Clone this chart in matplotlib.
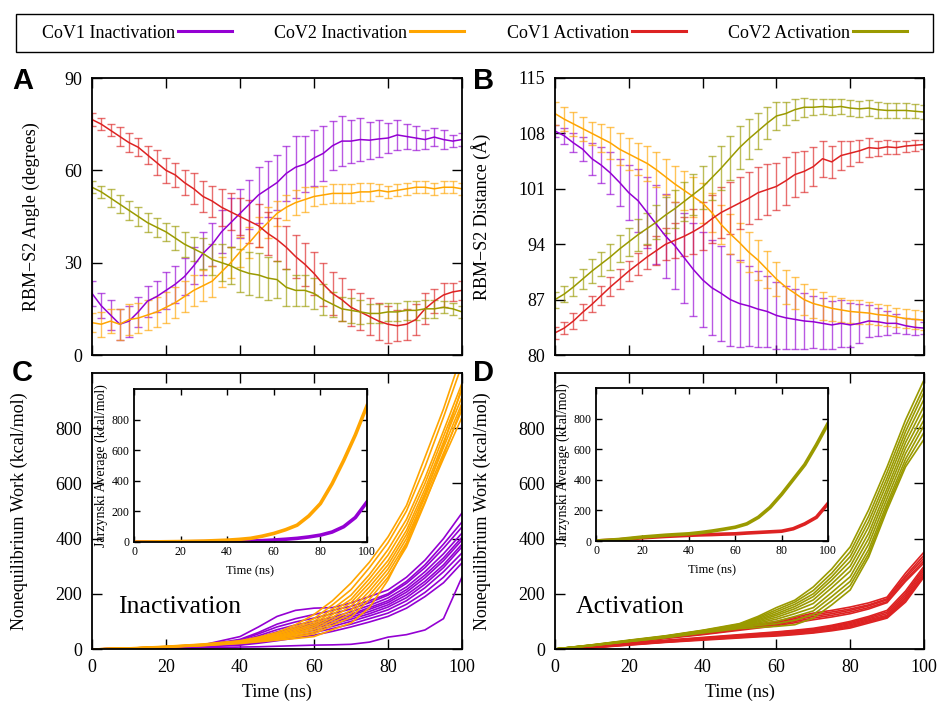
import numpy as np
import matplotlib.pyplot as plt
from matplotlib.colors import to_rgba

plt.rcParams['font.family'] = ['Liberation Serif', 'DejaVu Serif']

purple = '#9400D3'
orange = '#FFA500'
red = '#DD2222'
olive = '#9A9A00'

labels = ['CoV1 Inactivation', 'CoV2 Inactivation', 'CoV1 Activation', 'CoV2 Activation']

# ---- panel A / B : mean +- error every 2.5 ns
time_ab = np.linspace(0, 100, 41)

angle_cov1_inact = [20, 16, 13, 10, 11, 14, 17.5, 19, 21, 23, 25.5, 29, 33, 36, 40, 43, 46, 49, 52, 54,
                    56, 59, 61, 62, 64, 65.5, 68, 69.5, 69.5, 70, 69.8, 70.2, 70.5, 71.5, 71, 70.5, 70,
                    70.8, 70, 69.5, 70]
angle_cov1_inact_err = [4, 4, 5, 5, 5, 5, 5, 5, 6, 6, 6, 6, 7, 7, 7, 8, 8, 8, 9, 9, 9, 9, 10, 9, 9, 9,
                        8, 8, 7, 7, 6, 6, 5, 5, 4, 4, 3, 3, 3, 2, 2]
angle_cov2_inact = [10.5, 10, 11, 10, 11.5, 12, 13, 14, 15.5, 17, 19, 21, 22.5, 24, 27, 30, 33.5, 36.5,
                    40, 43, 46, 48, 49.5, 50.5, 51.5, 52, 52.5, 52.5, 52.5, 53, 53, 53.5, 53, 53.5, 54,
                    54.5, 54.5, 54, 54.5, 54.5, 54]
angle_cov2_inact_err = [3, 4, 4, 5, 5, 5, 5, 5, 5, 5, 5, 5, 5, 5, 5, 5, 5, 5, 5, 5, 4, 4, 4, 4, 3, 3,
                        3, 3, 3, 3, 3, 2, 2, 2, 2, 2, 2, 2, 2, 2, 2]
angle_cov1_act = [76.5, 75, 73, 71, 69, 67.5, 65, 62.5, 60, 58.5, 56, 54, 51.5, 50, 48, 46.5, 45, 43.5,
                  42, 39.5, 37.5, 35, 32, 29.5, 26.5, 23, 20, 18, 15.5, 14, 12.5, 11, 10, 9.5, 10,
                  11.5, 15, 17.5, 19.5, 20.5, 21]
angle_cov1_act_err = [2, 2, 2, 3, 3, 3, 3, 4, 4, 4, 4, 5, 5, 5, 6, 6, 6, 7, 7, 7, 7, 7, 7, 7, 7, 7, 7,
                      7, 6, 6, 6, 6, 6, 5, 5, 5, 5, 4, 4, 3, 3]
angle_cov2_act = [54.5, 53, 51, 49, 47, 45, 43, 41.5, 40, 38, 36, 34.5, 33, 31, 30, 29, 27.5, 26.5, 26,
                  25, 24.5, 22, 21, 21, 20, 18, 16.5, 15, 14.5, 14, 13.5, 13.5, 14, 14, 14.5, 14.5, 15,
                  15, 15.5, 15, 14]
angle_cov2_act_err = [2, 2, 3, 3, 3, 3, 3, 3, 3, 4, 4, 4, 5, 5, 6, 6, 7, 7, 7, 7, 6, 6, 5, 5, 5, 5, 4,
                      4, 4, 4, 3, 3, 3, 3, 3, 3, 3, 3, 2, 2, 2]

dist_cov1_inact = [108.3, 107.7, 106.8, 106, 104.8, 104, 103, 101.8, 100.5, 99.5, 98, 96.5, 95, 93.8,
                   92.3, 90.8, 89.5, 88.5, 87.8, 87, 86.5, 86.2, 85.8, 85.5, 85, 84.7, 84.5, 84.3, 84.2,
                   84, 83.8, 84, 83.8, 84, 84.3, 84.2, 84, 84, 83.7, 83.5, 83.4]
dist_cov1_inact_err = [0.8, 1, 1.2, 1.5, 2, 2.3, 2.7, 3, 3.5, 4, 4.5, 5, 5.3, 5.5, 5.7, 5.9, 6, 6, 6,
                       5.8, 5.5, 5, 4.8, 4.5, 4.2, 4, 3.8, 3.5, 3.3, 3.2, 3, 3, 2.8, 2.5, 2, 1.8, 1.5,
                       1.2, 1, 1, 0.8]
dist_cov2_inact = [110.5, 109.8, 109.2, 108.6, 108, 107.4, 106.8, 106, 105.4, 104.8, 104.2, 103.4, 102.5,
                   101.6, 100.8, 100, 99.2, 98, 96.5, 95.3, 94.2, 93, 92, 90.8, 89.6, 88.6, 87.8, 87,
                   86.5, 86.2, 85.9, 85.7, 85.5, 85.4, 85.3, 85.1, 85, 84.8, 84.6, 84.5, 84.4]
dist_cov2_inact_err = [1.5, 1.5, 1.5, 1.5, 1.5, 1.8, 2, 2, 2, 2, 2.2, 2.2, 2.3, 2.3, 2.5, 2.5, 2.5, 2.5,
                       2.5, 2.5, 2.5, 2.5, 2.5, 2.3, 2.2, 2.2, 2, 2, 1.8, 1.8, 1.6, 1.5, 1.5, 1.5, 1.4,
                       1.3, 1.3, 1.2, 1.2, 1.2, 1.2]
dist_cov1_act = [82.8, 83.4, 84.3, 85.4, 86.4, 87.5, 88.6, 89.6, 90.6, 91.5, 92.4, 93.2, 94, 94.5, 95,
                 95.6, 96.3, 97.2, 98, 98.6, 99.2, 99.8, 100.5, 100.9, 101.3, 102, 102.8, 103.2, 103.8,
                 104.8, 104.4, 105.2, 105.5, 105.8, 106.2, 106.1, 106.3, 106.2, 106.4, 106.5, 106.6]
dist_cov1_act_err = [0.8, 0.8, 1, 1, 1, 1.2, 1.2, 1.3, 1.3, 1.4, 1.5, 1.8, 2, 2.2, 2.5, 2.8, 3, 3, 3.2,
                     3.3, 3.3, 3.3, 3.3, 3.2, 3, 3, 2.8, 2.6, 2.5, 2.3, 2, 1.8, 1.6, 1.4, 1.2, 1, 0.9,
                     0.8, 0.7, 0.7, 0.6]
dist_cov2_act = [87, 87.7, 88.6, 89.6, 90.6, 91.5, 92.4, 93.4, 94.3, 95.2, 96, 96.8, 97.7, 98.5, 99.4,
                 100.3, 101.2, 102.4, 103.6, 104.9, 106.2, 107.3, 108.3, 109.3, 110.2, 110.5, 111,
                 111.3, 111.3, 111.4, 111.3, 111.4, 111.2, 111.1, 111.2, 111, 110.9, 110.9, 110.9,
                 110.8, 110.7]
dist_cov2_act_err = [1, 1, 1.2, 1.3, 1.5, 1.5, 1.6, 1.7, 1.8, 2, 2, 2.2, 2.3, 2.4, 2.5, 2.6, 2.7, 2.8,
                     2.8, 2.8, 2.7, 2.5, 2.3, 2, 1.8, 1.5, 1.3, 1.2, 1, 1, 1, 1, 1, 1, 1, 1, 1, 0.9,
                     0.9, 0.9, 0.9]

# ---- panel C / D : nonequilibrium work of each pulling run
time_w = [0, 10, 20, 30, 40, 45, 50, 55, 60, 65, 70, 75, 80, 85, 90, 95, 100]

work_cov1_inact = [
    [0, 3, 8, 15, 45, 80, 118, 140, 148, 150, 167, 190, 214, 260, 322, 400, 493],
    [0, 2, 7, 13, 35, 60, 90, 110, 125, 140, 155, 175, 200, 245, 305, 380, 460],
    [0, 2, 7, 13, 32, 55, 80, 98, 112, 128, 145, 168, 195, 238, 295, 365, 442],
    [0, 2, 6, 12, 28, 48, 70, 87, 100, 115, 135, 158, 185, 225, 280, 345, 420],
    [0, 2, 6, 11, 25, 42, 62, 79, 92, 108, 126, 150, 175, 215, 268, 330, 405],
    [0, 2, 6, 11, 24, 40, 58, 75, 88, 104, 122, 144, 168, 206, 258, 320, 395],
    [0, 2, 5, 10, 22, 36, 52, 68, 82, 97, 115, 136, 160, 196, 245, 305, 380],
    [0, 2, 5, 10, 20, 33, 48, 63, 76, 90, 108, 128, 152, 186, 235, 295, 370],
    [0, 2, 5, 9, 18, 29, 42, 56, 68, 82, 100, 120, 142, 175, 222, 280, 348],
    [0, 2, 4, 8, 16, 25, 36, 48, 60, 74, 90, 110, 130, 162, 205, 260, 330],
    [0, 1, 4, 8, 14, 21, 30, 40, 50, 64, 80, 98, 118, 148, 190, 240, 312],
    [0, 1, 2, 4, 7, 8, 10, 12, 14, 15, 17, 25, 43, 52, 69, 110, 261],
]
work_cov2_inact = [
    [0, 4, 10, 18, 30, 43, 60, 88, 125, 175, 239, 315, 406, 520, 695, 870, 1070],
    [0, 3, 9, 17, 28, 40, 55, 80, 110, 160, 215, 295, 385, 500, 660, 840, 1030],
    [0, 3, 9, 16, 27, 38, 52, 74, 100, 145, 195, 270, 360, 470, 620, 790, 963],
    [0, 3, 8, 16, 26, 36, 48, 68, 92, 135, 180, 255, 340, 450, 600, 770, 938],
    [0, 3, 8, 15, 25, 34, 45, 63, 85, 125, 168, 240, 320, 430, 580, 750, 913],
    [0, 3, 8, 15, 24, 32, 42, 58, 78, 115, 155, 225, 305, 415, 565, 730, 891],
    [0, 2, 7, 14, 23, 31, 40, 54, 70, 105, 140, 210, 290, 400, 550, 710, 866],
    [0, 2, 7, 14, 22, 29, 38, 49, 62, 95, 128, 195, 275, 385, 535, 690, 840],
    [0, 2, 7, 13, 21, 28, 35, 44, 55, 85, 115, 180, 260, 370, 529, 700, 880],
    [0, 2, 6, 12, 20, 26, 32, 38, 45, 70, 94, 150, 250, 380, 560, 740, 950],
]
work_cov1_act = [
    [0, 8, 25, 45, 60, 70, 80, 90, 100, 115, 130, 140, 152, 167, 188, 275, 351],
    [0, 8, 24, 43, 58, 68, 77, 87, 96, 110, 124, 134, 145, 160, 182, 265, 340],
    [0, 7, 23, 42, 56, 65, 74, 83, 92, 105, 118, 128, 140, 156, 178, 258, 330],
    [0, 7, 22, 40, 54, 62, 71, 80, 88, 100, 112, 122, 134, 150, 172, 250, 320],
    [0, 7, 21, 38, 52, 60, 68, 76, 84, 95, 106, 116, 128, 145, 168, 245, 312],
    [0, 6, 20, 32, 42, 47, 52, 57, 62, 68, 75, 86, 100, 118, 140, 210, 300],
    [0, 6, 19, 30, 40, 45, 50, 55, 60, 66, 72, 83, 96, 114, 134, 202, 292],
    [0, 6, 18, 29, 38, 43, 48, 52, 57, 63, 69, 80, 92, 110, 128, 195, 285],
    [0, 5, 17, 28, 37, 41, 46, 50, 55, 60, 66, 76, 88, 106, 122, 188, 277],
    [0, 5, 16, 26, 35, 40, 44, 48, 52, 57, 62, 72, 84, 102, 118, 182, 270],
    [0, 5, 15, 25, 34, 38, 42, 46, 50, 54, 60, 69, 80, 98, 115, 176, 264],
    [0, 4, 14, 24, 32, 36, 40, 44, 47, 52, 58, 66, 76, 94, 112, 170, 261],
]
work_cov2_act = [
    [0, 15, 32, 48, 68, 80, 92, 118, 150, 177, 225, 290, 370, 504, 660, 830, 975],
    [0, 15, 31, 47, 67, 78, 90, 114, 142, 170, 212, 275, 352, 482, 640, 808, 950],
    [0, 14, 30, 46, 66, 77, 88, 110, 135, 162, 200, 262, 335, 462, 620, 788, 930],
    [0, 14, 30, 46, 65, 75, 86, 106, 128, 154, 190, 250, 318, 442, 602, 768, 905],
    [0, 14, 29, 45, 64, 74, 85, 102, 122, 146, 178, 236, 300, 420, 582, 748, 880],
    [0, 13, 29, 44, 63, 73, 83, 98, 115, 138, 165, 222, 282, 400, 565, 728, 855],
    [0, 13, 28, 43, 62, 71, 81, 94, 108, 128, 150, 205, 262, 380, 546, 708, 830],
    [0, 13, 28, 43, 61, 70, 79, 89, 100, 118, 138, 190, 245, 360, 528, 688, 810],
    [0, 12, 27, 42, 60, 68, 77, 85, 92, 104, 125, 175, 230, 345, 516, 672, 785],
    [0, 12, 27, 41, 58, 66, 74, 78, 82, 88, 112, 160, 214, 333, 504, 660, 760],
]

# Jarzynski averages (insets)
jar_cov1_inact = [0, 0, 1, 2, 3, 4, 6, 9, 13, 18, 24, 33, 45, 65, 100, 160, 262]
jar_cov2_inact = [0, 1, 3, 6, 12, 17, 24, 38, 56, 80, 110, 170, 251, 380, 533, 700, 891]
jar_cov1_act = [0, 8, 21, 30, 37, 40, 42, 45, 47, 52, 56, 60, 64, 80, 112, 155, 245]
jar_cov2_act = [0, 10, 26, 38, 47, 55, 65, 77, 90, 112, 155, 219, 305, 402, 499, 628, 768]

W, H = 939, 703


def box(l, t, r, b):
    return [l / W, 1 - b / H, (r - l) / W, (b - t) / H]


def style(ax, fs=13, length=7, pad=7):
    ax.tick_params(which='both', direction='in', top=True, right=True,
                   length=length, width=1, labelsize=fs, pad=pad)
    for s in ax.spines.values():
        s.set_linewidth(1.3)


fig = plt.figure(figsize=(9.39, 7.03), dpi=100)

axA = fig.add_axes(box(92, 78, 462, 355))
axB = fig.add_axes(box(555, 78, 924, 355))
axC = fig.add_axes(box(92, 373, 462, 649))
axD = fig.add_axes(box(555, 373, 924, 649))
inC = fig.add_axes(box(134, 389, 367, 542))
inD = fig.add_axes(box(596, 388, 828, 541))


def errplot(ax, y, e, c):
    ax.errorbar(time_ab, y, yerr=e, color=c, ecolor=to_rgba(c, 0.65), lw=1.1,
                elinewidth=1, capsize=3, capthick=1)


errplot(axA, angle_cov1_inact, angle_cov1_inact_err, purple)
errplot(axA, angle_cov2_inact, angle_cov2_inact_err, orange)
errplot(axA, angle_cov1_act, angle_cov1_act_err, red)
errplot(axA, angle_cov2_act, angle_cov2_act_err, olive)
axA.set_xlim(0, 100)
axA.set_ylim(0, 90)
axA.set_yticks([0, 30, 60, 90])
axA.set_xticks([0, 20, 40, 60, 80, 100])
axA.set_xticklabels([])
axA.set_ylabel('RBM\u2212S2 Angle (degrees)', fontsize=13)
axA.yaxis.set_label_coords(-0.141, 0.5)
style(axA)

errplot(axB, dist_cov1_inact, dist_cov1_inact_err, purple)
errplot(axB, dist_cov2_inact, dist_cov2_inact_err, orange)
errplot(axB, dist_cov1_act, dist_cov1_act_err, red)
errplot(axB, dist_cov2_act, dist_cov2_act_err, olive)
axB.set_xlim(0, 100)
axB.set_ylim(80, 115)
axB.set_yticks([80, 87, 94, 101, 108, 115])
axB.set_xticks([0, 20, 40, 60, 80, 100])
axB.set_xticklabels([])
axB.set_ylabel('RBM\u2212S2 Distance (\u00c5)', fontsize=13)
axB.yaxis.set_label_coords(-0.173, 0.5)
style(axB)

# work curves
for w in work_cov1_inact:
    l_p, = axC.plot(time_w, w, color=purple, lw=1.2)
for w in work_cov2_inact:
    l_o, = axC.plot(time_w, w, color=orange, lw=1.2)
for w in work_cov1_act:
    l_r, = axD.plot(time_w, w, color=red, lw=1.2)
for w in work_cov2_act:
    l_g, = axD.plot(time_w, w, color=olive, lw=1.2)

for ax, word, wx in [(axC, 'Inactivation', 7), (axD, 'Activation', 5.7)]:
    ax.set_xlim(0, 100)
    ax.set_ylim(0, 1000)
    ax.set_xticks([0, 20, 40, 60, 80, 100])
    ax.set_yticks([0, 200, 400, 600, 800])
    ax.set_xlabel('Time (ns)', fontsize=13)
    ax.xaxis.set_label_coords(0.5, -0.125)
    ax.set_ylabel('Nonequilibrium Work (kcal/mol)', fontsize=13)
    ax.yaxis.set_label_coords(-0.173, 0.5)
    ax.text(wx, 152, word, fontsize=18.5, va='center')
    style(ax)

inC.plot(time_w, jar_cov1_inact, color=purple, lw=2.6)
inC.plot(time_w, jar_cov2_inact, color=orange, lw=2.6)
inD.plot(time_w, jar_cov1_act, color=red, lw=2.6)
inD.plot(time_w, jar_cov2_act, color=olive, lw=2.6)
for ax in [inC, inD]:
    ax.set_xlim(0, 100)
    ax.set_ylim(0, 1000)
    ax.set_xticks([0, 20, 40, 60, 80, 100])
    ax.set_yticks([0, 200, 400, 600, 800])
    ax.set_xlabel('Time (ns)', fontsize=9)
    ax.set_ylabel('Jarzynski Average (kcal/mol)', fontsize=10)
    ax.xaxis.set_label_coords(0.5, -0.15)
    ax.yaxis.set_label_coords(-0.112, 0.5)
    style(ax, fs=8.5, length=4, pad=3)

# panel letters
for letter, x, y in [('A', 12, 89), ('B', 473, 89), ('C', 12, 381), ('D', 473, 381)]:
    fig.text(x / W, 1 - y / H, letter, fontsize=21, fontweight='bold',
             family='Liberation Sans', va='baseline', ha='left')

# legend across the top, frame drawn separately
leg = fig.legend([l_p, l_o, l_r, l_g], labels, loc='center', ncol=4, mode='expand',
                 bbox_to_anchor=(42 / W, 1 - 52 / H, 865 / W, 38 / H), markerfirst=False,
                 fontsize=13, handlelength=3.0, handletextpad=0.15, frameon=False,
                 borderaxespad=0, borderpad=0)
for line in leg.get_lines():
    line.set_linewidth(2.2)
fig.add_artist(plt.Rectangle((16 / W, 1 - 52 / H), 917 / W, 38 / H, transform=fig.transFigure,
                             fill=False, lw=1.0, ec='black'))

fig.savefig('out.png', dpi=100)
